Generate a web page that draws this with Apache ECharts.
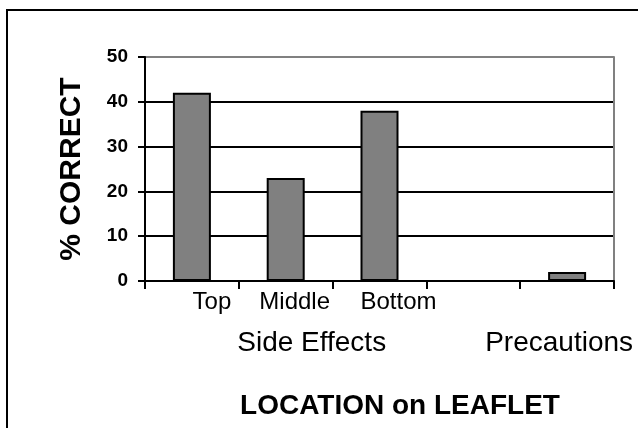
<!DOCTYPE html>
<html>
<head>
<meta charset="utf-8">
<script src="https://cdn.jsdelivr.net/npm/echarts@6/dist/echarts.min.js"></script>
<style>
    html, body { margin: 0; padding: 0; background: #fff; }
    #chart { width: 638px; height: 428px; }
</style>
</head>
<body>
<div id="chart"></div>
<script>
// category labels, two levels
var levelOne = ['Top', 'Middle', 'Bottom', '', ''];
var levelTwo = ['', 'Side Effects', '', '', 'Precautions'];
// % correct per location (4th slot is empty in the original)
var percentCorrect = [42, 23, 38, null, 2];

var yMin = 0, yMax = 50, yStep = 10;

var font = 'Liberation Sans, Arial, sans-serif';

var myChart = echarts.init(document.getElementById('chart'));

// labels in the original sit a bit right of the band centres
var oneRich = {
    s0: { fontSize: 24, padding: [0, 0, 0, 40] },
    s1: { fontSize: 24, padding: [0, 0, 0, 18] },
    s2: { fontSize: 24, padding: [0, 0, 0, 38] },
    s3: { fontSize: 24 },
    s4: { fontSize: 24 }
};
var twoRich = {
    s0: { fontSize: 28 },
    s1: { fontSize: 28, padding: [0, 0, 0, 52] },
    s2: { fontSize: 28 },
    s3: { fontSize: 28 },
    s4: { fontSize: 28, padding: [0, 16, 0, 0] }
};

var option = {
    backgroundColor: '#ffffff',
    animation: false,
    textStyle: { fontFamily: font },
    graphic: [{
        type: 'rect',
        shape: { x: 7, y: 10, width: 660, height: 440 },
        style: { fill: 'none', stroke: '#000', lineWidth: 2 },
        silent: true
    }],
    grid: {
        left: 145,
        right: 24,
        top: 57,
        bottom: 147
    },
    xAxis: [
        {
            type: 'category',
            data: levelOne,
            axisLine: { lineStyle: { color: '#000', width: 2 } },
            axisTick: { show: true, length: 8, lineStyle: { color: '#000', width: 2 } },
            axisLabel: {
                interval: 0,
                margin: 9,
                color: '#000',
                fontFamily: font,
                fontSize: 24,
                formatter: function (value, index) {
                    if (!value) return '';
                    return '{s' + index + '|' + value + '}';
                },
                rich: oneRich
            },
            splitLine: { show: false }
        },
        {
            type: 'category',
            data: levelTwo,
            position: 'bottom',
            axisLine: { show: false },
            axisTick: { show: false },
            axisLabel: {
                interval: 0,
                margin: 48,
                color: '#000',
                fontFamily: font,
                fontSize: 28,
                formatter: function (value, index) {
                    if (!value) return '';
                    return '{s' + index + '|' + value + '}';
                },
                rich: twoRich
            },
            name: 'LOCATION on LEAFLET',
            nameLocation: 'middle',
            nameGap: 111,
            nameTextStyle: {
                color: '#000',
                fontFamily: font,
                fontSize: 28,
                fontWeight: 'bold',
                padding: [0, 0, 0, 41]
            },
            splitLine: { show: false }
        }
    ],
    yAxis: [
        {
            type: 'value',
            min: yMin,
            max: yMax,
            interval: yStep,
            name: '% CORRECT',
            nameLocation: 'middle',
            nameRotate: 90,
            nameGap: 58,
            nameTextStyle: {
                color: '#000',
                fontFamily: font,
                fontSize: 30,
                fontWeight: 'bold'
            },
            axisLine: { show: true, lineStyle: { color: '#000', width: 2 } },
            axisTick: { show: true, length: 7, lineStyle: { color: '#000', width: 2 } },
            axisLabel: {
                margin: 17,
                color: '#000',
                fontFamily: font,
                fontSize: 19,
                fontWeight: 'bold'
            },
            splitLine: {
                show: true,
                lineStyle: {
                    color: ['#000', '#000', '#000', '#000', '#000', '#808080'],
                    width: 2
                }
            }
        },
        {
            type: 'value',
            min: yMin,
            max: yMax,
            interval: yStep,
            position: 'right',
            axisLine: { show: true, lineStyle: { color: '#808080', width: 2 } },
            axisTick: { show: false },
            axisLabel: { show: false },
            splitLine: { show: false }
        }
    ],
    series: [
        {
            name: '% CORRECT',
            type: 'bar',
            xAxisIndex: 0,
            yAxisIndex: 0,
            data: percentCorrect,
            barWidth: 38,
            itemStyle: {
                color: '#808080',
                borderColor: '#000',
                borderWidth: 2
            }
        }
    ]
};

myChart.setOption(option);
</script>
</body>
</html>
